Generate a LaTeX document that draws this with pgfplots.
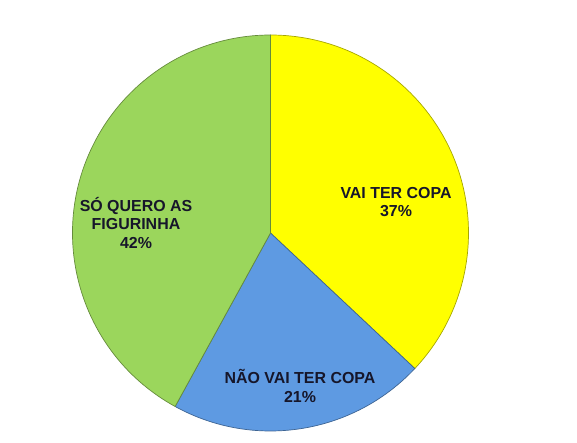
\documentclass[border=0pt]{standalone}
\usepackage{pgfplots}
\pgfplotsset{compat=1.18}
\usepackage{fontspec}
\setmainfont{Liberation Sans}
\definecolor{cYellow}{HTML}{FFFF00}
\definecolor{cBlue}{HTML}{5E9AE2}
\definecolor{cGreen}{HTML}{9BD65C}
\definecolor{cText}{HTML}{16162A}
% slice: #1 cumulative percent before, #2 percent, #3 colour
\newcommand\slice[3]{%
  \pgfplotsextra{%
    \pgfmathsetmacro\sa{90-3.6*#1}%
    \pgfmathsetmacro\sb{90-3.6*(#1+#2)}%
    \filldraw[fill=#3, draw=#3!65!black, line width=0.7pt, line join=round]
      (axis cs:270.5,210) -- ++(\sa:198bp) arc[start angle=\sa, end angle=\sb, radius=198bp] -- cycle;
  }}
\begin{document}
\begin{tikzpicture}
\begin{axis}[
  at={(0,0)}, anchor=south west,
  width=577bp, height=443bp, scale only axis,
  xmin=0, xmax=577, ymin=0, ymax=443,
  hide axis, clip=false,
]
\addplot[draw=none, forget plot] coordinates {(0,0) (577,443)};
% values (percent), clockwise from 12 o'clock
\slice{0}{37}{cYellow}
\slice{37}{21}{cBlue}
\slice{58}{42}{cGreen}
\begin{scope}[every node/.style={text=cText, align=center, font=\fontsize{16}{19}\selectfont\bfseries}]
\node at (axis cs:396,241) {VAI TER COPA\\37\%};
\node at (axis cs:136,220) {SÓ QUERO AS\\FIGURINHA\\42\%};
\node at (axis cs:300,57) {NÃO VAI TER COPA\\21\%};
\end{scope}
\end{axis}
\pgfresetboundingbox
\path[use as bounding box] (0,0) rectangle (577bp,443bp);
\end{tikzpicture}
\end{document}
